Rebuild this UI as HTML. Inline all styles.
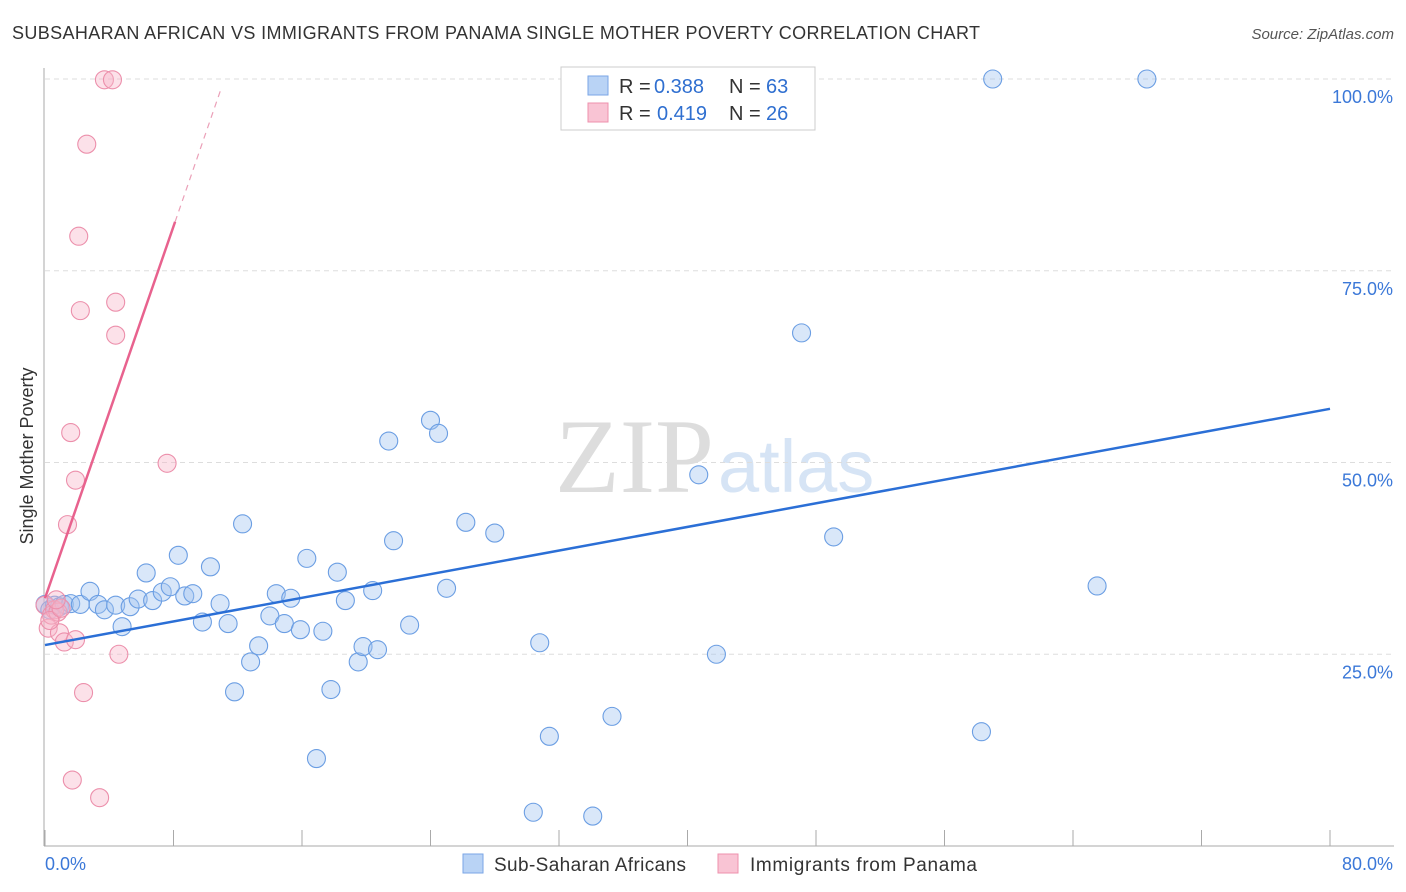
<!DOCTYPE html>
<html><head><meta charset="utf-8"><style>
body{margin:0;background:#fff;font-family:"Liberation Sans",sans-serif;}
#wrap{position:relative;width:1406px;height:892px;overflow:hidden}
</style></head><body>
<div id="wrap">
<svg id="svg" width="1406" height="892" xmlns="http://www.w3.org/2000/svg">
<text x="12" y="39" font-size="18" fill="#333" textLength="968">SUBSAHARAN AFRICAN VS IMMIGRANTS FROM PANAMA SINGLE MOTHER POVERTY CORRELATION CHART</text>
<text x="1394" y="39" font-size="15" fill="#555" font-style="italic" text-anchor="end">Source: ZipAtlas.com</text>
<text x="33" y="456" font-size="18" fill="#333" text-anchor="middle" transform="rotate(-90 33 456)">Single Mother Poverty</text>
<text x="714" y="492" font-size="106" fill="#ddd" font-family="Liberation Serif,serif" text-anchor="end">ZIP</text>
<text x="718" y="492" font-size="74" fill="#d6e4f5">atlas</text>
<g id="grid"></g><g id="pts"></g><g id="lines"></g>
<rect x="561" y="67" width="254" height="63" fill="#fff" stroke="#ccc"/>
<rect x="588" y="76" width="20" height="19" fill="#b9d3f5" stroke="#7aa6e6"/>
<rect x="588" y="103" width="20" height="19" fill="#f9c4d4" stroke="#ee90ad"/>
<g font-size="20">
<text x="619" y="93" fill="#333">R =</text><text x="654" y="93" fill="#2f6fd0">0.388</text>
<text x="729" y="93" fill="#333">N =</text><text x="766" y="93" fill="#2f6fd0">63</text>
<text x="619" y="120" fill="#333">R =</text><text x="657" y="120" fill="#2f6fd0">0.419</text>
<text x="729" y="120" fill="#333">N =</text><text x="766" y="120" fill="#2f6fd0">26</text>
</g>
<rect x="463" y="854" width="20" height="19" fill="#b9d3f5" stroke="#7aa6e6"/>
<text x="494" y="871" font-size="19" fill="#333" textLength="192">Sub-Saharan Africans</text>
<rect x="718" y="854" width="20" height="19" fill="#f9c4d4" stroke="#ee90ad"/>
<text x="750" y="871" font-size="19" fill="#333" textLength="227">Immigrants from Panama</text>
<text x="45" y="870" font-size="18" fill="#3b78d8">0.0%</text>
<text x="1393" y="870" font-size="18" fill="#3b78d8" text-anchor="end">80.0%</text>
</svg></div>
<script>
const yTicks=[25,50,75,100];
const yTickLabels=["25.0%","50.0%","75.0%","100.0%"];
const blueX=[0,0.3,0.6,0.9,1.2,1.6,2.2,2.8,3.3,3.7,4.4,4.8,5.3,5.8,6.3,6.7,7.3,7.8,8.3,8.7,9.2,9.8,10.3,10.9,11.4,11.8,12.3,12.8,13.3,14.0,14.4,14.9,15.3,15.9,16.3,16.9,17.3,17.8,18.2,18.7,19.5,19.8,20.4,20.7,21.4,21.7,22.7,24.0,24.5,25.0,26.2,28.0,30.4,30.8,31.4,34.1,35.3,40.7,41.8,47.1,49.1,58.3,59.0,65.5,68.6];
const blueY=[31.5,30.8,31.4,31.2,31.5,31.6,31.5,33.2,31.5,30.8,31.4,28.6,31.2,32.2,35.6,32.0,33.1,33.8,37.9,32.6,32.9,29.2,36.4,31.6,29.0,20.1,42.0,24.0,26.1,30.0,32.9,29.0,32.3,28.2,37.5,11.4,28.0,20.4,35.7,32.0,24.0,26.0,33.3,25.6,52.8,39.8,28.8,55.5,53.8,33.6,42.2,40.8,4.4,26.5,14.3,3.9,16.9,48.4,25.0,66.9,40.3,14.9,100,33.9,100];
const pinkX=[0,0.2,0.4,0.6,0.8,0.9,1.2,1.4,1.6,1.7,1.9,1.9,2.1,2.2,2.4,2.6,3.4,3.7,4.2,4.4,4.4,4.6,7.6,0.3,1.0,0.7];
const pinkY=[31.4,28.4,30.1,30.8,30.5,27.8,26.6,41.9,53.9,8.6,47.7,26.9,79.5,69.8,20.0,91.5,6.3,99.9,99.9,70.9,66.6,25.0,49.9,29.4,31.0,32.1];
const blueFit=[26.2,57.0];
const pinkFit=[32.3,6.06];
const X=v=>45+v*1285/80, Y=v=>846-v*7.67;
const NS="http://www.w3.org/2000/svg";
function mk(t,a,p){const e=document.createElementNS(NS,t);for(const k in a)e.setAttribute(k,a[k]);p.appendChild(e);return e;}
const grid=document.getElementById('grid');
yTicks.forEach((t,i)=>{
 const l=mk('line',{x1:45,x2:1394,y1:Y(t),y2:Y(t),stroke:'#ddd','stroke-dasharray':'5,4'},grid);
 
 
 const tx=mk('text',{x:1393,y:Y(t)+24,'font-size':18,fill:'#3b78d8','text-anchor':'end'},grid);
 tx.textContent=yTickLabels[i];
 
 
});
const ax=mk('line',{x1:44,x2:44,y1:68,y2:846,stroke:'#aaa'},grid);


const bx=mk('line',{x1:44,x2:1394,y1:846,y2:846,stroke:'#aaa'},grid);


for(let i=0;i<=10;i++){const t=mk('line',{x1:X(i*8),x2:X(i*8),y1:830,y2:846,stroke:'#aaa'},grid);
 
 }
const pts=document.getElementById('pts');
blueX.forEach((x,i)=>{const c=mk('circle',{cx:X(x),cy:Y(blueY[i]),r:9,fill:'rgba(160,195,240,0.4)',stroke:'#6b9ee3','stroke-width':1.1},pts);
 
 });
pinkX.forEach((x,i)=>{const c=mk('circle',{cx:X(x),cy:Y(pinkY[i]),r:9,fill:'rgba(247,180,200,0.4)',stroke:'#ec8fab','stroke-width':1.1},pts);
 
 });
const lines=document.getElementById('lines');
const bl=mk('line',{x1:X(0),y1:Y(blueFit[0]),x2:X(80),y2:Y(blueFit[1]),stroke:'#2b6fd6','stroke-width':2.5},lines);


const pf=x=>pinkFit[0]+pinkFit[1]*x;
const pl=mk('line',{x1:X(0),y1:Y(pf(0)),x2:X(8.1),y2:Y(pf(8.1)),stroke:'#e8628e','stroke-width':2.5},lines);


const pd=mk('line',{x1:X(8.1),y1:Y(pf(8.1)),x2:X(11),y2:Y(pf(11)),stroke:'#eba0b8','stroke-width':1.2,'stroke-dasharray':'6,5'},lines);


</script>
</body></html>
